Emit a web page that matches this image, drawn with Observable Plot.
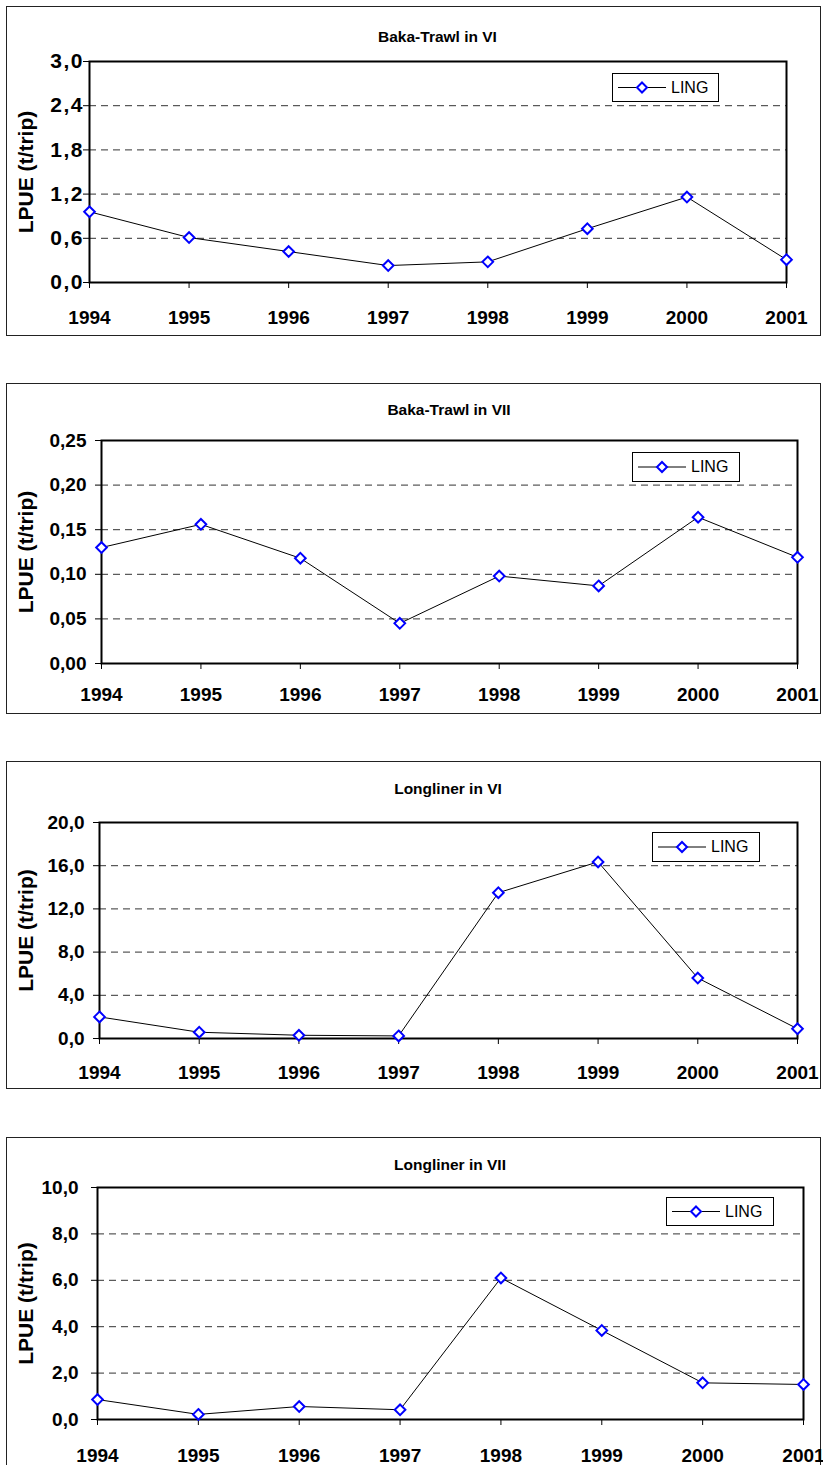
<!DOCTYPE html>
<html><head><meta charset="utf-8">
<script src="https://cdn.jsdelivr.net/npm/d3@7"></script>
<script src="https://cdn.jsdelivr.net/npm/@observablehq/plot@0.6"></script>
<style>
html,body{margin:0;padding:0;background:#fff;}
body{width:823px;height:1465px;position:relative;overflow:hidden;font-family:"Liberation Sans",Arial,sans-serif;}
.box{position:absolute;border:1px solid #222;box-sizing:border-box;}
.chart{position:absolute;left:0;}
.title{position:absolute;font-weight:bold;font-size:15.5px;transform:translate(-50%,-50%);white-space:nowrap;color:#000;}
.legend{position:absolute;border:1px solid #000;background:#fff;box-sizing:border-box;}
.legend span{position:absolute;font-size:16px;color:#000;}
</style></head><body>
<script>
// ---- data ----
const years = [1994, 1995, 1996, 1997, 1998, 1999, 2000, 2001];
const titles = ["Baka-Trawl in VI", "Baka-Trawl in VII", "Longliner in VI", "Longliner in VII"];
const seriesName = "LING";
const yLabel = "LPUE (t/trip)";
const bakaTrawlVI  = [0.96, 0.61, 0.42, 0.23, 0.28, 0.73, 1.16, 0.31];
const bakaTrawlVII = [0.130, 0.156, 0.118, 0.045, 0.098, 0.087, 0.164, 0.119];
const longlinerVI  = [2.0, 0.58, 0.3, 0.24, 13.5, 16.35, 5.6, 0.9];
const longlinerVII = [0.86, 0.22, 0.56, 0.42, 6.1, 3.84, 1.58, 1.51];
const ticksBakaVI   = [0, 0.6, 1.2, 1.8, 2.4, 3.0];
const ticksBakaVII  = [0, 0.05, 0.10, 0.15, 0.20, 0.25];
const ticksLongVI   = [0, 4, 8, 12, 16, 20];
const ticksLongVII  = [0, 2, 4, 6, 8, 10];
const tickDecimals  = [1, 2, 1, 1];

// ---- layout ----
const layout = [
  {values: bakaTrawlVI,  ticks: ticksBakaVI,  top: 0,    height: 340, mt: 61, mb: 58, ml: 89,  mr: 37, xPad: 22, yPad: 1,  yFont: 21, ls: 1.5, box: [6, 6, 815, 330],    legend: [612, 73, 107, 29],   titleY: 37},
  {values: bakaTrawlVII, ticks: ticksBakaVII, top: 370,  height: 350, mt: 70, mb: 57, ml: 101, mr: 26, xPad: 18, yPad: 9,  yFont: 19, ls: 0,   box: [6, 383, 815, 331],  legend: [632, 452, 108, 30],  titleY: 410},
  {values: longlinerVI,  ticks: ticksLongVI,  top: 750,  height: 345, mt: 72, mb: 57, ml: 99,  mr: 26, xPad: 21, yPad: 9,  yFont: 19, ls: 0,   box: [6, 761, 815, 328],  legend: [652, 832, 108, 30],  titleY: 789},
  {values: longlinerVII, ticks: ticksLongVII, top: 1130, height: 335, mt: 57, mb: 46, ml: 97,  mr: 20, xPad: 23, yPad: 13, yFont: 19, ls: 0,   box: [6, 1137, 815, 340], legend: [666, 1197, 108, 29], titleY: 1165}
];

const font = "'Liberation Sans', Arial, sans-serif";

layout.forEach((p, i) => {
  const box = document.createElement("div");
  box.className = "box";
  Object.assign(box.style, {left: p.box[0] + "px", top: p.box[1] + "px", width: p.box[2] + "px", height: p.box[3] + "px"});
  document.body.appendChild(box);

  const data = years.map((year, j) => ({year, value: p.values[j]}));
  const dec = tickDecimals[i];
  const fmt = d => d.toFixed(dec).replace(".", ",");
  const chart = Plot.plot({
    width: 823, height: p.height,
    marginTop: p.mt, marginBottom: p.mb, marginLeft: p.ml, marginRight: p.mr,
    style: {fontFamily: font, background: "transparent", overflow: "visible", color: "#000"},
    x: {domain: [1994, 2001]},
    y: {domain: [0, p.ticks[p.ticks.length - 1]]},
    marks: [
      Plot.gridY(p.ticks.slice(1, -1), {stroke: "#333", strokeOpacity: 1, strokeDasharray: "7,5", strokeWidth: 1}),
      Plot.frame({stroke: "#000", strokeWidth: 2}),
      Plot.axisX(years, {tickFormat: d => String(d), tickSize: 6, tickPadding: p.xPad, fontSize: 19, fontWeight: "bold", label: null}),
      Plot.axisY(p.ticks, {tickFormat: fmt, tickSize: 6, tickPadding: p.yPad, fontSize: p.yFont, fontWeight: "bold", label: null}),
      Plot.axisY([], {tickSize: 0, fontSize: 21, fontWeight: "bold",
        label: yLabel, labelAnchor: "center", labelArrow: "none", labelOffset: p.ml - 18}),
      Plot.line(data, {x: "year", y: "value", stroke: "#000", strokeWidth: 1}),
      Plot.dot(data, {x: "year", y: "value", symbol: "diamond2", r: 4.8, stroke: "#0000ff", strokeWidth: 2, fill: "#fff"})
    ]
  });
  chart.classList.add("chart");
  chart.style.top = p.top + "px";
  if (p.ls) {
    chart.querySelectorAll('g[aria-label="y-axis tick label"] text').forEach(t => {
      t.setAttribute("letter-spacing", p.ls + "px");
      t.setAttribute("dx", p.ls);
    });
  }
  document.body.appendChild(chart);

  const t = document.createElement("div");
  t.className = "title";
  t.textContent = titles[i];
  t.style.left = ((p.ml + 823 - p.mr) / 2) + "px";
  t.style.top = p.titleY + "px";
  document.body.appendChild(t);

  const lg = document.createElement("div");
  lg.className = "legend";
  Object.assign(lg.style, {left: p.legend[0] + "px", top: p.legend[1] + "px", width: p.legend[2] + "px", height: p.legend[3] + "px"});
  const h = p.legend[3] - 2;
  lg.innerHTML = `<svg width="60" height="${h}" style="position:absolute;left:0;top:0">
    <line x1="5" x2="53" y1="${h/2}" y2="${h/2}" stroke="#000" stroke-width="1"/>
    <path d="M29,${h/2-5}L34,${h/2}L29,${h/2+5}L24,${h/2}Z" fill="#fff" stroke="#0000ff" stroke-width="2"/>
  </svg><span style="left:58px;top:${h/2 - 9}px">${seriesName}</span>`;
  document.body.appendChild(lg);
});
</script>
</body></html>
